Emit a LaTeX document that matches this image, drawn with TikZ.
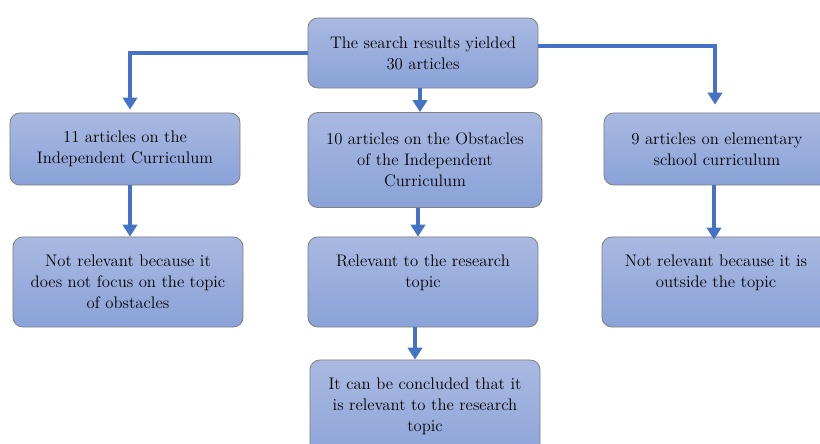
\documentclass[tikz,border=0pt]{standalone}
\usetikzlibrary{arrows.meta}
\definecolor{boxtop}{HTML}{A9B9E1}
\definecolor{boxbot}{HTML}{8AA2D8}
\definecolor{flow}{HTML}{4472C4}
\begin{document}
\begin{tikzpicture}[x=0.025cm,y=-0.025cm,
  stage/.style={draw=black!50,line width=0.6pt,rounded corners=7pt,top color=boxtop,bottom color=boxbot,align=center,font=\fontsize{11.9}{15}\selectfont,inner sep=2pt},
  flowline/.style={draw=flow,line width=2.8pt,-{Triangle[length=0.3cm,width=0.36cm]}}]
\clip (0,0) rectangle (820,443);
\node[stage,minimum width=5.75cm,minimum height=1.75cm] (top) at (423,53) {The search results yielded\\30 articles};
\node[stage,minimum width=5.75cm,minimum height=1.8cm] (left1) at (125,149) {11 articles on the\\Independent Curriculum};
\node[stage,minimum width=5.85cm,minimum height=2.375cm] (mid1) at (425,160) {10 articles on the Obstacles\\of the Independent\\Curriculum};
\node[stage,minimum width=5.65cm,minimum height=1.8cm] (right1) at (717,149) {9 articles on elementary\\school curriculum};
\node[stage,minimum width=5.75cm,minimum height=2.25cm] (left2) at (128,282) {Not relevant because it\\does not focus on the topic\\of obstacles};
\node[stage,minimum width=5.75cm,minimum height=2.25cm] (mid2) at (423,282) {Relevant to the research\\topic\\\mbox{}};
\node[stage,minimum width=5.7cm,minimum height=2.25cm] (right2) at (716,282) {Not relevant because it is\\outside the topic\\\mbox{}};
\node[stage,minimum width=5.75cm,minimum height=2.75cm] (mid3) at (425,415) {It can be concluded that it\\is relevant to the research\\topic\\\mbox{}};
% connectors
\draw[flowline,shorten >=0.075cm] (top.west) -| ([xshift=0.125cm]left1.north);
\draw[flowline,shorten >=0.2cm] ([yshift=0.175cm]top.east) -| ([xshift=-0.05cm]right1.north);
\draw[flowline] ([xshift=-0.075cm]top.south) -- ([xshift=-0.075cm]top.south |- mid1.north);
\draw[flowline] ([xshift=0.125cm]left1.south) -- ([xshift=0.125cm]left1.south |- left2.north);
\draw[flowline] ([xshift=-0.175cm]mid1.south) -- ([xshift=-0.175cm]mid1.south |- mid2.north);
\draw[flowline,shorten >=-0.075cm] ([xshift=-0.075cm]right1.south) -- ([xshift=-0.075cm]right1.south |- right2.north);
\draw[flowline] ([xshift=-0.2cm]mid2.south) -- ([xshift=-0.2cm]mid2.south |- mid3.north);
\end{tikzpicture}
\end{document}
